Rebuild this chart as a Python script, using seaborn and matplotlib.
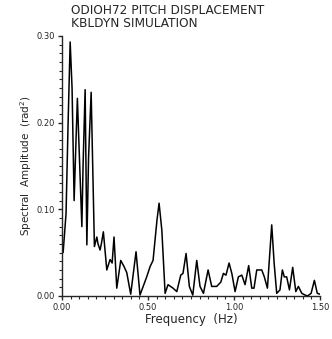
import numpy as np
import pandas as pd
import seaborn as sns
import matplotlib.pyplot as plt
from matplotlib.ticker import MultipleLocator, FormatStrFormatter

# Valores (frequência em Hz, amplitude em rad²)
frequencia = [0.006, 0.023, 0.035, 0.047, 0.058, 0.070, 0.081, 0.089, 0.099, 0.115,
              0.122, 0.134, 0.144, 0.154, 0.169, 0.188, 0.202, 0.209, 0.221, 0.230,
              0.240, 0.260, 0.279, 0.291, 0.302, 0.318, 0.341, 0.360, 0.376, 0.399,
              0.430, 0.453, 0.492, 0.512, 0.529, 0.552, 0.564, 0.580, 0.599, 0.616,
              0.645, 0.667, 0.690, 0.703, 0.721, 0.740, 0.760, 0.783, 0.802, 0.822,
              0.849, 0.870, 0.899, 0.923, 0.938, 0.953, 0.971, 0.987, 1.006, 1.025,
              1.045, 1.064, 1.085, 1.103, 1.116, 1.132, 1.161, 1.176, 1.194, 1.219,
              1.233, 1.248, 1.267, 1.281, 1.292, 1.306, 1.322, 1.341, 1.359, 1.374,
              1.394, 1.413, 1.428, 1.448, 1.467, 1.484, 1.500]
amplitude = [0.050, 0.095, 0.200, 0.293, 0.240, 0.110, 0.180, 0.228, 0.170, 0.080,
             0.150, 0.238, 0.059, 0.160, 0.235, 0.057, 0.068, 0.060, 0.053, 0.062,
             0.074, 0.030, 0.042, 0.038, 0.068, 0.009, 0.041, 0.034, 0.027, 0.002,
             0.051, 0.001, 0.022, 0.034, 0.041, 0.088, 0.107, 0.076, 0.003, 0.013,
             0.009, 0.005, 0.024, 0.026, 0.049, 0.011, 0.001, 0.041, 0.011, 0.003,
             0.030, 0.011, 0.011, 0.016, 0.026, 0.024, 0.038, 0.026, 0.005, 0.022,
             0.024, 0.013, 0.035, 0.009, 0.009, 0.030, 0.030, 0.022, 0.009, 0.082,
             0.038, 0.003, 0.007, 0.030, 0.022, 0.022, 0.007, 0.033, 0.005, 0.011,
             0.003, 0.001, 0.000, 0.003, 0.018, 0.003, 0.002]

titulo = 'ODIOH72 PITCH DISPLACEMENT\nKBLDYN SIMULATION'

sns.set_style('ticks')
plt.rcParams['font.family'] = ['DejaVu Sans']

df = pd.DataFrame({'f': frequencia, 'a': amplitude})

fig = plt.figure(figsize=(3.32, 3.39), dpi=100)
ax = fig.add_axes([0.187, 0.127, 0.777, 0.767])
sns.lineplot(data=df, x='f', y='a', color='black', linewidth=1.1, sort=False, ax=ax)

ax.set_xlim(0, 1.5)
ax.set_ylim(0, 0.30)
ax.xaxis.set_major_locator(MultipleLocator(0.5))
ax.xaxis.set_minor_locator(MultipleLocator(0.05))
ax.yaxis.set_major_locator(MultipleLocator(0.1))
ax.yaxis.set_minor_locator(MultipleLocator(0.01))
ax.xaxis.set_major_formatter(FormatStrFormatter('%.2f'))
ax.yaxis.set_major_formatter(FormatStrFormatter('%.2f'))
ax.tick_params(which='major', length=3, width=1, labelsize=6, pad=2)
ax.tick_params(which='minor', length=2, width=0.8)
sns.despine(ax=ax)
for s in ['left', 'bottom']:
    ax.spines[s].set_linewidth(1)

ax.set_xlabel('Frequency  (Hz)', fontsize=8.5, labelpad=1)
ax.set_ylabel('Spectral  Amplitude  (rad$^2$)', fontsize=7.5, labelpad=2)
fig.text(0.215, 0.912, titulo, fontsize=8.7, ha='left', va='bottom', linespacing=0.95)

fig.savefig('out.png', dpi=100)
